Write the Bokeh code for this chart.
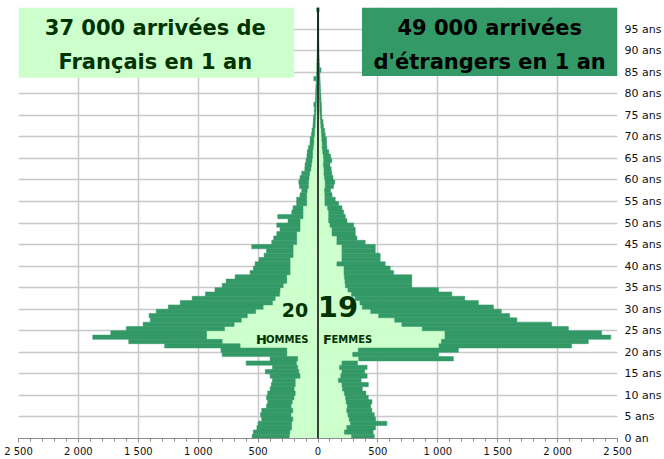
from bokeh.plotting import figure
from bokeh.models import ColumnDataSource, Range1d, FixedTicker, BoxAnnotation, Label, Span
from bokeh.embed import file_html
from bokeh.resources import INLINE

# ---------------- data ----------------
ages = list(range(100))

men_fr = [240, 235, 220, 220, 210, 225, 210, 225, 215, 200,
          190, 200, 190, 190, 150, 160, 170, 180, 170, 260,
          260, 650, 800, 930, 930, 780, 700, 640, 590, 520,
          458, 380, 358, 320, 317, 290, 261, 261, 233, 233,
          233, 233, 208, 208, 208, 178, 178, 178, 150, 150,
          150, 125, 125, 125, 94, 94, 94, 90, 80, 80,
          75, 70, 60, 55, 50, 45, 45, 40, 35, 35,
          30, 28, 24, 22, 20, 18, 16, 15, 12, 11,
          10, 9, 8, 10, 6, 5, 5, 5, 4, 4,
          3, 3, 3, 2, 2, 2, 1, 1, 1, 4]

men_et = [310, 305, 290, 280, 260, 255, 260, 205, 205, 230,
          230, 200, 200, 190, 250, 280, 210, 420, 230, 540,
          550, 630, 780, 950, 800, 820, 760, 760, 820, 830,
          792, 770, 692, 620, 543, 510, 506, 431, 334, 306,
          292, 259, 242, 222, 345, 208, 192, 166, 167, 194,
          100, 211, 94, 83, 84, 84, 56, 46, 75, 80,
          75, 66, 50, 53, 50, 47, 45, 40, 32, 30,
          25, 22, 18, 18, 18, 13, 14, 20, 10, 9,
          10, 9, 7, 25, 6, 5, 5, 4, 4, 3,
          3, 3, 2, 2, 2, 1, 2, 1, 1, 8]

women_fr = [280, 220, 240, 270, 260, 250, 240, 245, 235, 230,
            220, 205, 200, 170, 190, 200, 180, 200, 340, 290,
            336, 1010, 1030, 1060, 1060, 870, 700, 640, 506, 440,
            370, 350, 310, 280, 250, 228, 225, 220, 217, 217,
            158, 200, 200, 200, 200, 158, 158, 117, 117, 100,
            89, 89, 89, 80, 58, 58, 58, 55, 60, 60,
            55, 50, 50, 45, 48, 45, 40, 35, 35, 32,
            30, 28, 24, 22, 18, 16, 15, 14, 12, 12,
            11, 10, 9, 8, 7, 8, 6, 5, 4, 4,
            3, 3, 3, 2, 2, 2, 1, 1, 1, 4]

women_et = [190, 240, 240, 305, 220, 220, 210, 195, 215, 190,
            180, 165, 220, 190, 220, 190, 230, 130, 790, 716,
            836, 1107, 1226, 1384, 1307, 1220, 1250, 1020, 1094, 1090,
            1094, 989, 915, 837, 756, 555, 558, 563, 414, 386,
            403, 319, 319, 278, 278, 236, 167, 194, 194, 197,
            153, 139, 125, 120, 114, 86, 59, 50, 70, 80,
            70, 65, 60, 55, 67, 60, 50, 40, 37, 38,
            30, 27, 21, 20, 14, 14, 15, 14, 13, 12,
            11, 10, 9, 9, 8, 17, 6, 5, 5, 4,
            4, 3, 2, 3, 2, 2, 2, 2, 1, 6]

x_ticks = [-2500, -2000, -1500, -1000, -500, 0, 500, 1000, 1500, 2000, 2500]
x_labels = ["2 500", "2 000", "1 500", "1 000", "500", "0",
            "500", "1 000", "1 500", "2 000", "2 500"]
y_ticks = [0, 5, 10, 15, 20, 25, 30, 35, 40, 45, 50, 55, 60, 65, 70, 75, 80, 85, 90, 95]
y_labels = ["0 an", "5 ans", "10 ans", "15 ans", "20 ans", "25 ans", "30 ans", "35 ans",
            "40 ans", "45 ans", "50 ans", "55 ans", "60 ans", "65 ans", "70 ans", "75 ans",
            "80 ans", "85 ans", "90 ans", "95 ans"]

box_fr_text = ["37 000 arrivées de", "Français en 1 an"]
box_et_text = ["49 000 arrivées", "d'étrangers en 1 an"]

LIGHT = "#ccffcc"
DARK = "#339966"
TXT_DARK = "#003300"

# ---------------- stacking ----------------
yc = [a + 0.5 for a in ages]
src = ColumnDataSource(dict(
    y=yc,
    m_fr_l=[-v for v in men_fr], m_fr_r=[0] * len(ages),
    m_et_l=[-(f + e) for f, e in zip(men_fr, men_et)], m_et_r=[-f for f in men_fr],
    w_fr_l=[0] * len(ages), w_fr_r=women_fr,
    w_et_l=women_fr, w_et_r=[f + e for f, e in zip(women_fr, women_et)],
))

p = figure(width=664, height=459, x_range=Range1d(-2500, 2500), y_range=Range1d(0, 100),
           output_backend="svg", toolbar_location=None,
           x_axis_location="below", y_axis_location="right",
           min_border_left=18, min_border_right=46, min_border_top=7, min_border_bottom=21)
p.outline_line_color = None
p.background_fill_color = "white"

# grids
p.xgrid.ticker = FixedTicker(ticks=x_ticks)
p.ygrid.ticker = FixedTicker(ticks=y_ticks + [100])
for g in (p.xgrid, p.ygrid):
    g.grid_line_color = "#c8c8c8"
    g.grid_line_width = 1.5

# bars
p.hbar(y="y", left="m_fr_l", right="m_fr_r", height=1, source=src,
       fill_color=LIGHT, line_color=LIGHT, line_width=0.5)
p.hbar(y="y", left="m_et_l", right="m_et_r", height=1, source=src,
       fill_color=DARK, line_color=DARK, line_width=0.5)
p.hbar(y="y", left="w_fr_l", right="w_fr_r", height=1, source=src,
       fill_color=LIGHT, line_color=LIGHT, line_width=0.5)
p.hbar(y="y", left="w_et_l", right="w_et_r", height=1, source=src,
       fill_color=DARK, line_color=DARK, line_width=0.5)

p.add_layout(Span(location=0, dimension="height", line_color="black", line_width=1.5))

# x axis
xa = p.xaxis[0]
xa.ticker = FixedTicker(ticks=x_ticks, minor_ticks=list(range(-2500, 2501, 100)))
xa.major_label_overrides = {t: l for t, l in zip(x_ticks, x_labels)}
xa.axis_line_color = "#8c8c8c"
xa.major_tick_line_color = "#8c8c8c"
xa.minor_tick_line_color = "#8c8c8c"
xa.major_tick_in = 0
xa.major_tick_out = 4
xa.minor_tick_in = 0
xa.minor_tick_out = 3
xa.major_label_standoff = 3
xa.major_label_text_font = "DejaVu Sans"
xa.major_label_text_font_size = "10px"
xa.major_label_text_color = "#111111"

# y axis (right)
ya = p.yaxis[0]
ya.ticker = FixedTicker(ticks=y_ticks)
ya.major_label_overrides = {t: l for t, l in zip(y_ticks, y_labels)}
ya.axis_line_color = None
ya.major_tick_line_color = None
ya.minor_tick_line_color = None
ya.major_tick_in = 0
ya.major_tick_out = 0
ya.minor_tick_in = 0
ya.minor_tick_out = 0
ya.major_label_standoff = 7
ya.major_label_text_font = "DejaVu Sans"
ya.major_label_text_font_size = "11px"
ya.major_label_text_color = "#111111"

# title boxes
p.add_layout(BoxAnnotation(left=-2500, right=-200, bottom=83.7, top=100,
                           fill_color=LIGHT, fill_alpha=1, line_color=None))
p.add_layout(BoxAnnotation(left=367, right=2500, bottom=84.1, top=100,
                           fill_color=DARK, fill_alpha=1, line_color=None))

for txt, yy in zip(box_fr_text, [95.2, 87.4]):
    p.add_layout(Label(x=-1358, y=yy, text=txt, text_font="DejaVu Sans", text_font_size="21px",
                       text_font_style="bold", text_color=TXT_DARK,
                       text_align="center", text_baseline="middle"))
for txt, yy in zip(box_et_text, [95.2, 87.4]):
    p.add_layout(Label(x=1433, y=yy, text=txt, text_font="DejaVu Sans", text_font_size="21px",
                       text_font_style="bold", text_color="black",
                       text_align="center", text_baseline="middle"))

# year & sex labels
p.add_layout(Label(x=0, y=29.7, x_offset=-23, text="20", text_font="DejaVu Sans",
                   text_font_size="19px", text_font_style="bold", text_color=TXT_DARK,
                   text_align="center", text_baseline="middle"))
p.add_layout(Label(x=0, y=30.6, x_offset=20, text="19", text_font="DejaVu Sans",
                   text_font_size="29px", text_font_style="bold", text_color=TXT_DARK,
                   text_align="center", text_baseline="middle"))

def small_caps(first, rest, x_off, y):
    p.add_layout(Label(x=0, y=y, x_offset=x_off, text=first, text_font="DejaVu Sans",
                       text_font_size="13px", text_font_style="bold", text_color=TXT_DARK,
                       text_align="left", text_baseline="alphabetic"))
    p.add_layout(Label(x=0, y=y, x_offset=x_off + (10 if first == "H" else 8.5), text=rest,
                       text_font="DejaVu Sans", text_font_size="10px", text_font_style="bold",
                       text_color=TXT_DARK, text_align="left", text_baseline="alphabetic"))

small_caps("H", "OMMES", -62, 22.9)
small_caps("F", "EMMES", 5, 22.9)

open("out.html", "w").write(file_html(p, INLINE))
